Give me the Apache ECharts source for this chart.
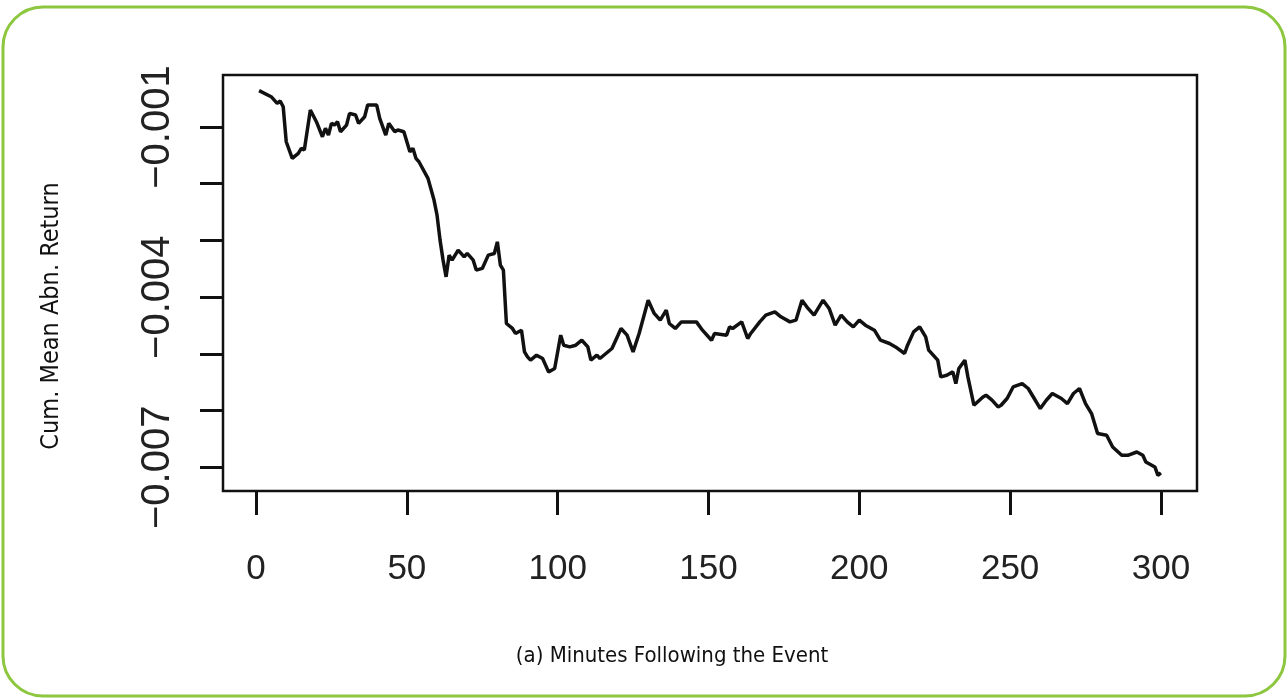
<!DOCTYPE html>
<html>
<head>
<meta charset="utf-8">
<title>Cum. Mean Abn. Return</title>
<script src="https://cdn.jsdelivr.net/npm/echarts@6/dist/echarts.min.js"></script>
<style>
  html, body { margin: 0; padding: 0; background: #fff; }
  #chart { width: 1288px; height: 698px; }
</style>
</head>
<body>
<div id="chart"></div>
<script>
// 分钟（事件之后）
const minutes = [
  1, 5, 7, 8, 9, 10, 12, 14, 15, 16, 18, 20, 22, 23, 24, 25, 26, 27, 28, 30,
  31, 33, 34, 36, 37, 40, 41, 43, 44, 46, 47, 49, 51, 52, 53, 54, 57, 59, 60, 61,
  62, 63, 64, 65, 67, 69, 70, 72, 73, 75, 77, 79, 80, 81, 82, 83, 85, 86, 88, 89,
  90, 91, 93, 95, 97, 99, 101, 102, 104, 106, 108, 110, 111, 113, 114, 116, 118, 120, 121, 123,
  125, 127, 130, 132, 134, 136, 137, 139, 141, 144, 146, 148, 151, 152, 156, 157, 158, 161, 163, 164,
  167, 169, 172, 174, 177, 179, 181, 183, 185, 188, 190, 192, 194, 196, 198, 200, 202, 205, 207, 210,
  212, 215, 216, 218, 220, 222, 223, 226, 227, 229, 231, 232, 233, 235, 236, 238, 241, 242, 244, 246,
  247, 249, 251, 254, 256, 258, 260, 262, 264, 267, 269, 271, 273, 275, 277, 279, 282, 284, 287, 289,
  292, 294, 295, 298, 299, 300
];

// 累计平均异常收益
const cumMeanAbnReturn = [
  -0.000359, -0.000465, -0.000582, -0.000541, -0.000642, -0.001259, -0.001552, -0.001464, -0.001376, -0.001406,
  -0.000700, -0.000906, -0.001171, -0.001023, -0.001141, -0.000935, -0.000965, -0.000906, -0.001083, -0.000965,
  -0.000758, -0.000788, -0.000935, -0.000818, -0.000612, -0.000612, -0.000846, -0.001141, -0.000935, -0.001083,
  -0.001053, -0.001083, -0.001436, -0.001376, -0.001552, -0.001612, -0.001905, -0.002288, -0.002553, -0.002994,
  -0.003347, -0.003642, -0.003259, -0.003347, -0.003170, -0.003289, -0.003229, -0.003347, -0.003523, -0.003493,
  -0.003259, -0.003229, -0.003024, -0.003435, -0.003523, -0.004464, -0.004552, -0.004640, -0.004582, -0.004965,
  -0.005053, -0.005111, -0.005023, -0.005082, -0.005318, -0.005258, -0.004670, -0.004847, -0.004877, -0.004847,
  -0.004759, -0.004877, -0.005111, -0.005023, -0.005082, -0.004993, -0.004905, -0.004670, -0.004552, -0.004670,
  -0.004965, -0.004640, -0.004053, -0.004287, -0.004406, -0.004229, -0.004464, -0.004552, -0.004436, -0.004436,
  -0.004436, -0.004582, -0.004759, -0.004640, -0.004670, -0.004524, -0.004552, -0.004436, -0.004729, -0.004640,
  -0.004436, -0.004317, -0.004259, -0.004347, -0.004436, -0.004406, -0.004053, -0.004199, -0.004317, -0.004053,
  -0.004199, -0.004494, -0.004317, -0.004436, -0.004524, -0.004406, -0.004494, -0.004582, -0.004759, -0.004817,
  -0.004877, -0.004993, -0.004847, -0.004612, -0.004524, -0.004700, -0.004935, -0.005111, -0.005406, -0.005376,
  -0.005318, -0.005523, -0.005258, -0.005111, -0.005406, -0.005906, -0.005759, -0.005729, -0.005817, -0.005936,
  -0.005906, -0.005787, -0.005583, -0.005523, -0.005611, -0.005787, -0.005964, -0.005817, -0.005699, -0.005787,
  -0.005876, -0.005699, -0.005611, -0.005876, -0.006052, -0.006405, -0.006435, -0.006641, -0.006788, -0.006788,
  -0.006730, -0.006788, -0.006906, -0.006994, -0.007141, -0.007100
];

// 刻度
const xTicks = [0, 50, 100, 150, 200, 250, 300];
const yTicks = [-0.001, -0.002, -0.003, -0.004, -0.005, -0.006, -0.007];
const yTickLabels = [-0.001, -0.004, -0.007];

const yTitle = 'Cum. Mean Abn. Return';
const caption = '(a) Minutes Following the Event';

const narrowFont = "'DejaVu Sans Condensed', 'Liberation Sans', sans-serif";
const plainFont = "'Liberation Sans', Arial, sans-serif";

const chart = echarts.init(document.getElementById('chart'), null, { renderer: 'canvas' });

const option = {
  animation: false,
  backgroundColor: '#fff',
  grid: {
    left: 223,
    top: 75,
    width: 974,
    height: 416,
    show: true,
    borderColor: '#111',
    borderWidth: 2.5,
    backgroundColor: 'transparent'
  },
  xAxis: {
    type: 'value',
    // R 的默认 4% 外扩
    min: -10.96,
    max: 311.96,
    splitLine: { show: false },
    axisLine: { show: false, onZero: false },
    axisTick: {
      show: true,
      customValues: xTicks,
      length: 24,
      lineStyle: { color: '#111', width: 3 }
    },
    axisLabel: {
      customValues: xTicks,
      margin: 61,
      fontSize: 35,
      fontFamily: plainFont,
      color: '#222'
    }
  },
  yAxis: {
    type: 'value',
    min: -0.007418,
    max: -0.0000824,
    splitLine: { show: false },
    axisLine: { show: false, onZero: false },
    axisTick: {
      show: true,
      customValues: yTicks,
      length: 23,
      lineStyle: { color: '#111', width: 3 }
    },
    axisLabel: {
      customValues: yTickLabels,
      rotate: 90,
      margin: 45,
      fontSize: 40,
      fontFamily: plainFont,
      color: '#222',
      formatter: v => '\u2212' + Math.abs(v).toFixed(3)
    }
  },
  series: [{
    type: 'line',
    data: minutes.map((m, i) => [m, cumMeanAbnReturn[i]]),
    showSymbol: false,
    lineStyle: { color: '#111', width: 3.5 },
    silent: true
  }],
  graphic: [
    {
      // 外框（绿色圆角）
      type: 'rect',
      silent: true,
      shape: { x: 3, y: 7, width: 1282, height: 689, r: 40 },
      style: { fill: 'none', stroke: '#8dc63f', lineWidth: 3 }
    },
    {
      type: 'text',
      x: 51,
      y: 316,
      rotation: Math.PI / 2,
      style: {
        text: yTitle,
        fontSize: 25,
        fontFamily: narrowFont,
        fill: '#111',
        textAlign: 'center',
        textVerticalAlign: 'middle'
      }
    },
    {
      type: 'text',
      x: 672,
      y: 656,
      style: {
        text: caption,
        fontSize: 22,
        fontFamily: narrowFont,
        fill: '#111',
        textAlign: 'center',
        textVerticalAlign: 'middle'
      }
    }
  ]
};

chart.setOption(option);
</script>
</body>
</html>
